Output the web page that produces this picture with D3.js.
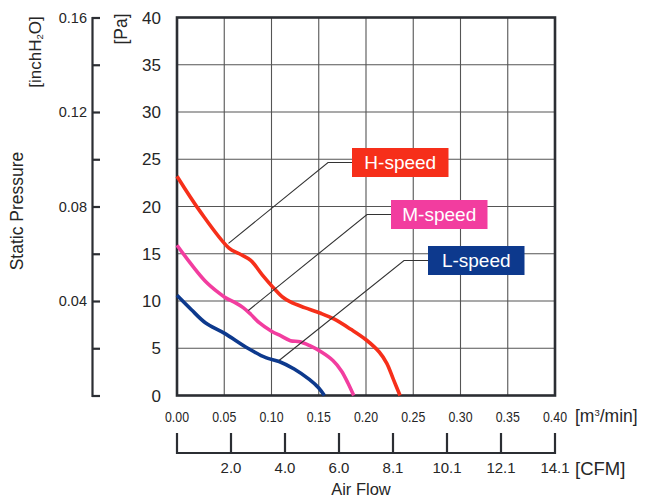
<!DOCTYPE html>
<html>
<head>
<meta charset="utf-8">
<script src="https://cdn.jsdelivr.net/npm/d3@7"></script>
<style>
  html, body { margin: 0; padding: 0; background: #fff; }
  svg { display: block; font-family: "Liberation Sans", Arial, Helvetica, sans-serif; }
</style>
</head>
<body>
<svg id="chart" width="647" height="499"></svg>
<script>
// Fan P-Q curves: airflow [m³/min] vs static pressure [Pa]
const hSpeed = [[0,23.2],[0.025,19.4],[0.055,15.6],[0.066,15.0],[0.078,14.3],[0.09,12.8],[0.103,11.3],[0.112,10.4],[0.12,9.9],[0.135,9.3],[0.152,8.7],[0.166,8.1],[0.184,7.0],[0.2,5.9],[0.214,4.6],[0.222,3.4],[0.229,1.7],[0.236,0]];
const mSpeed = [[0,15.9],[0.015,13.9],[0.03,12.1],[0.045,10.8],[0.052,10.3],[0.062,9.8],[0.07,9.3],[0.078,8.6],[0.087,7.7],[0.1,6.8],[0.11,6.3],[0.12,5.8],[0.13,5.7],[0.14,5.3],[0.152,4.65],[0.165,3.7],[0.174,2.6],[0.181,1.3],[0.187,0]];
const lSpeed = [[0,10.6],[0.015,9.1],[0.03,7.7],[0.05,6.6],[0.075,5.0],[0.094,4.0],[0.108,3.6],[0.124,2.8],[0.14,1.7],[0.15,0.8],[0.156,0]];

const seriesNames = ["H-speed", "M-speed", "L-speed"];
const seriesColors = ["#f62f1a", "#f23d9f", "#0d398d"];
// point on each curve the callout points to [m³/min, Pa]
const calloutAnchors = [[0.0545, 16.1], [0.0755, 9.0], [0.108, 3.7]];

const flowTicks = [0, 0.05, 0.10, 0.15, 0.20, 0.25, 0.30, 0.35, 0.40];
const paTicks = [0, 5, 10, 15, 20, 25, 30, 35, 40];
const inchTicks = [0, 0.02, 0.04, 0.06, 0.08, 0.10, 0.12, 0.14, 0.16];
const inchLabels = [0.04, 0.08, 0.12, 0.16];
const cfmMax = 14.1;
const cfmTickLabels = ["", "2.0", "4.0", "6.0", "8.1", "10.1", "12.1", "14.1"];

const svg = d3.select("#chart");
const textCol = "#262626";

const plotL = 177, plotR = 555, plotT = 17.5, plotB = 395.5;
const x = d3.scaleLinear().domain([0, 0.4]).range([plotL, plotR]);
const y = d3.scaleLinear().domain([0, 40]).range([plotB, plotT]);
const yIn = d3.scaleLinear().domain([0, 0.16]).range([plotB, plotT]);
const xCfm = d3.scaleLinear().domain([0, cfmMax]).range([plotL, plotR]);

// grid
const grid = svg.append("g").attr("stroke", "#555").attr("stroke-width", 1.1);
grid.selectAll("line.v").data(flowTicks.slice(1, -1)).join("line")
  .attr("x1", d => x(d)).attr("x2", d => x(d)).attr("y1", plotT).attr("y2", plotB);
grid.selectAll("line.h").data(paTicks.slice(1, -1)).join("line")
  .attr("x1", plotL).attr("x2", plotR).attr("y1", d => y(d)).attr("y2", d => y(d));

// frame
svg.append("rect").attr("x", plotL).attr("y", plotT).attr("width", plotR - plotL).attr("height", plotB - plotT)
  .attr("fill", "none").attr("stroke", "#2b2e33").attr("stroke-width", 2.6);

// Pa labels
svg.append("g").selectAll("text").data(paTicks).join("text")
  .attr("x", 161).attr("y", d => y(d)).attr("dy", "0.36em")
  .attr("text-anchor", "end").attr("font-size", 17).attr("fill", textCol)
  .text(d => d);

// inchH2O axis
const inchAxis = svg.append("g").attr("transform", "translate(92,0)");
inchAxis.call(d3.axisRight(yIn).tickValues(inchTicks).tickSize(8).tickSizeOuter(8).tickFormat(""));
inchAxis.select(".domain").attr("stroke", "#2b2e33").attr("stroke-width", 2.2);
inchAxis.selectAll(".tick line").attr("stroke", "#2b2e33").attr("stroke-width", 2.2);
svg.append("g").selectAll("text").data(inchLabels).join("text")
  .attr("x", 87).attr("y", d => yIn(d)).attr("dy", "0.36em")
  .attr("text-anchor", "end").attr("font-size", 14.5).attr("fill", textCol)
  .text(d => d.toFixed(2));

// rotated axis titles
svg.append("text").attr("transform", "translate(127,29) rotate(-90)")
  .attr("text-anchor", "middle").attr("font-size", 17.5).attr("fill", textCol).text("[Pa]");
const inchTitle = svg.append("text").attr("transform", "translate(41,52) rotate(-90)")
  .attr("text-anchor", "middle").attr("font-size", 17).attr("fill", textCol);
inchTitle.append("tspan").text("[inchH");
inchTitle.append("tspan").attr("font-size", 9.5).attr("dy", 2).text("2");
inchTitle.append("tspan").attr("dy", -2).text("O]");
svg.append("text").attr("transform", "translate(23,211) rotate(-90)")
  .attr("text-anchor", "middle").attr("font-size", 17.5).attr("fill", textCol).text("Static Pressure");

// m³/min labels
svg.append("g").selectAll("text").data(flowTicks).join("text")
  .attr("x", d => x(d)).attr("y", 416).attr("dy", "0.36em")
  .attr("text-anchor", "middle").attr("font-size", 15.5).attr("fill", textCol)
  .attr("textLength", 24).attr("lengthAdjust", "spacingAndGlyphs")
  .text(d => d.toFixed(2));
const flowUnit = svg.append("text").attr("x", 575).attr("y", 416).attr("dy", "0.36em")
  .attr("font-size", 17.5).attr("fill", textCol);
flowUnit.append("tspan").text("[m");
flowUnit.append("tspan").attr("font-size", 9.5).attr("dy", -6).text("3");
flowUnit.append("tspan").attr("dy", 6).text("/min]");

// CFM axis
const cfmTicks = d3.range(8).map(i => cfmMax * i / 7);
const cfmAxis = svg.append("g");
cfmAxis.append("line").attr("x1", xCfm(0)).attr("x2", xCfm(cfmMax)).attr("y1", 453).attr("y2", 453)
  .attr("stroke", "#2b2e33").attr("stroke-width", 2.2);
cfmAxis.selectAll("line.t").data(cfmTicks).join("line")
  .attr("x1", d => xCfm(d)).attr("x2", d => xCfm(d)).attr("y1", 433).attr("y2", 454)
  .attr("stroke", "#2b2e33").attr("stroke-width", 2.2);
svg.append("g").selectAll("text").data(cfmTicks).join("text")
  .attr("x", d => xCfm(d)).attr("y", 468).attr("dy", "0.36em")
  .attr("text-anchor", "middle").attr("font-size", 15).attr("fill", textCol)
  .text((d, i) => cfmTickLabels[i]);
svg.append("text").attr("x", 575).attr("y", 468).attr("dy", "0.36em")
  .attr("font-size", 18.5).attr("fill", textCol).text("[CFM]");
svg.append("text").attr("x", 361).attr("y", 494.5)
  .attr("text-anchor", "middle").attr("font-size", 16.5).attr("fill", textCol).text("Air Flow");

// curves
const line = d3.line().x(d => x(d[0])).y(d => y(d[1])).curve(d3.curveCatmullRom.alpha(0.5));
[hSpeed, mSpeed, lSpeed].forEach((s, i) => {
  svg.append("path").datum(s).attr("d", line)
    .attr("fill", "none").attr("stroke", seriesColors[i]).attr("stroke-width", 3.6)
    .attr("stroke-linejoin", "round").attr("stroke-linecap", "butt");
});

// callouts with leader lines
const boxes = [{x: 352, y: 148, elbowX: 328}, {x: 391, y: 200, elbowX: 367}, {x: 428, y: 246, elbowX: 404}];
const boxW = 96.5, boxH = 29;
seriesNames.forEach((name, i) => {
  const b = boxes[i];
  const a = calloutAnchors[i];
  const midY = b.y + boxH / 2;
  svg.append("polyline")
    .attr("points", [[x(a[0]), y(a[1])], [b.elbowX, midY], [b.x, midY]].map(p => p.join(",")).join(" "))
    .attr("fill", "none").attr("stroke", "#333").attr("stroke-width", 1.1);
  svg.append("rect").attr("x", b.x).attr("y", b.y).attr("width", boxW).attr("height", boxH)
    .attr("fill", seriesColors[i]);
  svg.append("text").attr("x", b.x + boxW / 2).attr("y", midY).attr("dy", "0.36em")
    .attr("text-anchor", "middle").attr("font-size", 19).attr("fill", "#fff").text(name);
});
</script>
</body>
</html>
